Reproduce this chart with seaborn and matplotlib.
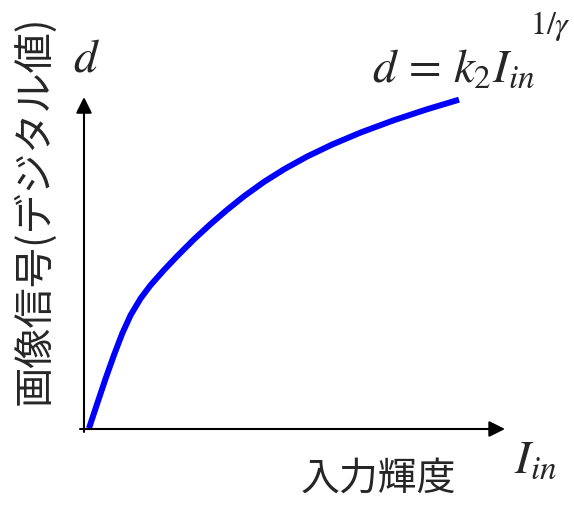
import matplotlib
matplotlib.use("Agg")
import matplotlib.pyplot as plt
import seaborn as sns
import pandas as pd

# 入力輝度 (normalised) と 画像信号
brightness = [0.0133, 0.0354, 0.0577, 0.0798, 0.1019, 0.1242, 0.1508, 0.1774,
              0.2128, 0.2481, 0.2926, 0.3370, 0.3803, 0.4255, 0.4787, 0.5346,
              0.5931, 0.6596, 0.7367, 0.8245, 0.9122, 0.9973]
signal = [0.0021, 0.0784, 0.1546, 0.2256, 0.2918, 0.3476, 0.3985, 0.4390,
          0.4848, 0.5274, 0.5784, 0.6253, 0.6680, 0.7095, 0.7534, 0.7936,
          0.8305, 0.8671, 0.9043, 0.9415, 0.9747, 1.0040]

x_label = "入力輝度"
y_label = "画像信号(デジタル値)"

sns.set_style("white")
plt.rcParams["font.family"] = ["Noto Sans CJK JP", "DejaVu Sans"]
plt.rcParams["mathtext.fontset"] = "stix"

W, H = 574, 505
fig = plt.figure(figsize=(W / 100, H / 100), dpi=100)
ax = fig.add_axes([0, 0, 1, 1])

df = pd.DataFrame({"I": brightness, "d": signal})
sns.lineplot(data=df, x="I", y="d", color="#0000ff", linewidth=4.3, ax=ax,
             sort=False, solid_joinstyle="round", solid_capstyle="butt")

ax.set_xlim(-0.2234, 1.3032)
ax.set_ylim(-0.2317, 1.3079)
ax.set_axis_off()

# 矢印付きの軸
arrow = dict(arrowstyle="-|>", color="black", lw=1.5, mutation_scale=24,
             shrinkA=0, shrinkB=0)
ax.annotate("", xy=(1.1197, 0), xytext=(-0.0106, 0), arrowprops=arrow)
ax.annotate("", xy=(0, 1.012), xytext=(0, -0.009), arrowprops=arrow)


def px(x, y):
    return x / W, 1 - y / H


fig.text(*px(34, 210), y_label, rotation=90, ha="center", va="center",
         fontsize=29)
fig.text(*px(378, 479), x_label, ha="center", va="center", fontsize=28)

fig.text(*px(73, 72), r"$d$", ha="left", va="baseline", fontsize=34)
fig.text(*px(514, 473), r"$I_{in}$", ha="left", va="baseline", fontsize=34)
fig.text(*px(372, 82), r"$d\,=\,k_2 I_{in}$", ha="left", va="baseline",
         fontsize=34)
fig.text(*px(530, 34), r"$1/\gamma$", ha="left", va="baseline", fontsize=23)

fig.savefig("out.png", dpi=100)
